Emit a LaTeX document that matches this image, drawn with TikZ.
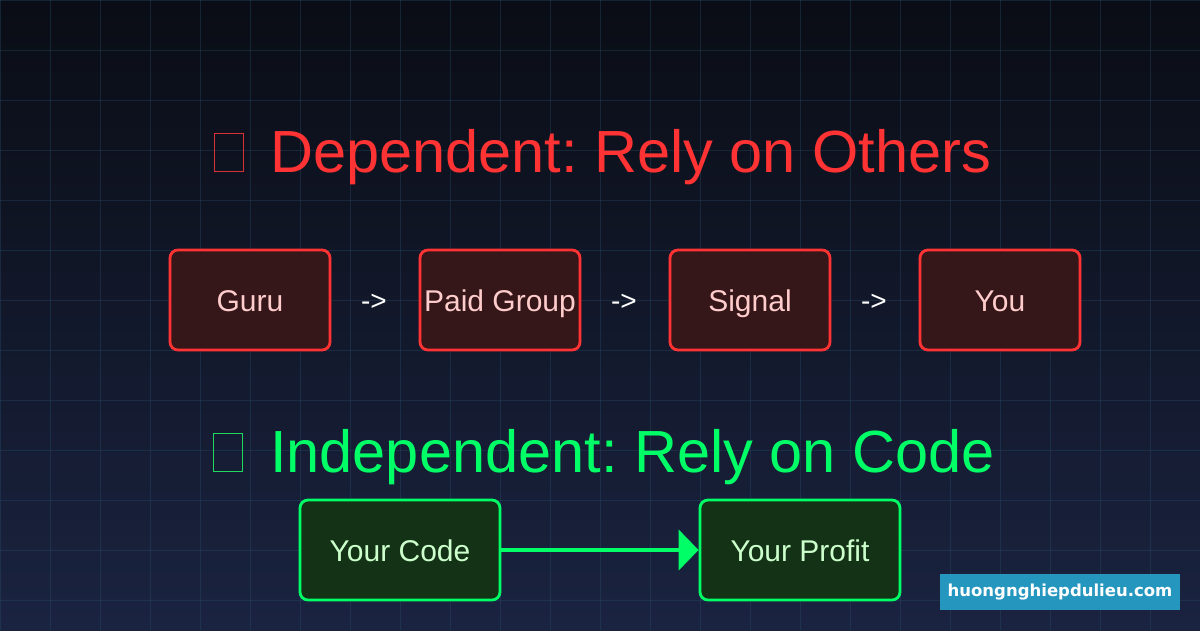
\documentclass[tikz,border=0pt]{standalone}
\usepackage{fontspec}
\setmainfont{Liberation Sans}
\newfontfamily\wmfont{DejaVu Sans}
\usetikzlibrary{arrows.meta}
\frenchspacing
\definecolor{bgtop}{HTML}{0A0D15}
\definecolor{bgbot}{HTML}{1A2340}
\definecolor{gridc}{RGB}{40,80,110}
\definecolor{redc}{HTML}{FF3333}
\definecolor{redfill}{HTML}{351619}
\definecolor{redtext}{HTML}{FFCCCC}
\definecolor{tofured}{HTML}{D83035}
\definecolor{greenc}{HTML}{00FF66}
\definecolor{greenfill}{HTML}{143316}
\definecolor{greentext}{HTML}{CCFFCC}
\definecolor{tofugreen}{HTML}{1FD85E}
\definecolor{wmblue}{HTML}{2596BE}
\tikzset{
  boxtxt/.style={text height=22pt, text depth=0pt, font=\fontsize{30}{34}\selectfont},
  redbox/.style={boxtxt, draw=redc, fill=redfill, line width=2.8pt, rounded corners=8pt,
    minimum width=160pt, minimum height=100pt, inner sep=0pt, text=redtext},
  greenbox/.style={boxtxt, draw=greenc, fill=greenfill, line width=2.8pt, rounded corners=8pt,
    minimum width=200pt, minimum height=100pt, inner sep=0pt, text=greentext},
  arrowtxt/.style={text=white, inner sep=0pt, text height=20pt, text depth=0pt,
    font=\fontsize{28}{32}\selectfont},
  title/.style={anchor=base west, inner sep=0pt, font=\frenchspacing\fontsize{59.5}{70}\selectfont},
}
\begin{document}
\begin{tikzpicture}[x=1pt,y=-1pt]
\useasboundingbox (0,0) rectangle (1200,630);
\shade[top color=bgtop, bottom color=bgbot] (0,0) rectangle (1200,630);
\foreach \i in {0,50,...,1200} \draw[gridc, opacity=0.35, line width=1pt] (\i,0) -- (\i,630);
\foreach \j in {0,50,...,600} \draw[gridc, opacity=0.35, line width=1pt] (0,\j) -- (1200,\j);

% titles
\draw[tofured, line width=1pt] (214.5,133.5) rectangle (243.5,171.5);
\node[title, text=redc] (t1) at (270,172) {Dependent: Rely on Others};
\draw[tofugreen, line width=1pt] (213.5,433.5) rectangle (242.5,471.5);
\node[title, text=greenc] (t2) at (270,472) {Independent: Rely on Code};

% dependent chain
\node[redbox] (guru) at (250,300) {Guru};
\node[redbox] (paid) at (500,300) {Paid Group};
\node[redbox] (sig) at (750,300) {Signal};
\node[redbox] (you) at (1000,300) {You};
\node[arrowtxt] (a1) at (374,300) {->};
\node[arrowtxt] (a2) at (624,300) {->};
\node[arrowtxt] (a3) at (874,300) {->};

% independent
\node[greenbox] (code) at (400,550) {Your Code};
\node[greenbox] (profit) at (800,550) {Your Profit};
\draw[greenc, line width=4.5pt, -{Triangle[length=20pt,width=40pt]}] (code.east) -- (profit.west);

% watermark
\node[fill=wmblue, minimum width=240pt, minimum height=36pt, inner sep=0pt,
  text=white, font=\wmfont\bfseries\fontsize{16.5}{19}\selectfont] (wm) at (1060,592) {huongnghiepdulieu.com};
\end{tikzpicture}
\end{document}
